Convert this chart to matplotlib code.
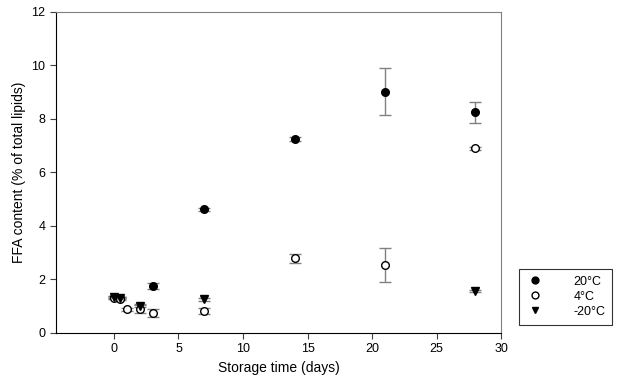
import numpy as np
import matplotlib.pyplot as plt

plt.rcParams['font.family'] = ['Liberation Sans', 'DejaVu Sans']

# 20°C
days_20 = [0, 0.5, 3, 7, 14, 21, 28]
ffa_20 = [1.33, 1.30, 1.76, 4.62, 7.26, 9.02, 8.25]
err_20 = [0.05, 0.05, 0.12, 0.06, 0.07, 0.87, 0.40]

# 4°C
days_4 = [0, 0.5, 1, 2, 3, 7, 14, 21, 28]
ffa_4 = [1.30, 1.28, 0.88, 0.90, 0.74, 0.82, 2.79, 2.55, 6.90]
err_4 = [0.04, 0.05, 0.06, 0.15, 0.14, 0.12, 0.17, 0.63, 0.05]

# -20°C
days_m20 = [0, 0.5, 2, 7, 28]
ffa_m20 = [1.34, 1.32, 1.02, 1.26, 1.56]
err_m20 = [0.03, 0.03, 0.05, 0.05, 0.04]

fig = plt.figure(figsize=(6.21, 3.84), dpi=100)
ax = fig.add_axes([0.090, 0.133, 0.717, 0.836])

ebkw = dict(ls='none', ecolor='#808080', elinewidth=1, capsize=4, capthick=1, ms=5.5)
ax.errorbar(days_20, ffa_20, yerr=err_20, fmt='o', color='black', mec='black', label='20°C', **ebkw)
ax.errorbar(days_4, ffa_4, yerr=err_4, fmt='o', mfc='white', mec='black', label='4°C', **ebkw)
ax.errorbar(days_m20, ffa_m20, yerr=err_m20, fmt='v', color='black', mec='black', label='-20°C', **ebkw)

ax.set_xlim(-4.5, 30)
ax.set_ylim(0, 12)
ax.set_xticks(np.arange(0, 31, 5))
ax.set_yticks(np.arange(0, 13, 2))
ax.tick_params(direction='out', length=4, labelsize=9, color='#404040')
for s in ['top', 'right']:
    ax.spines[s].set_color('#808080')
ax.set_xlabel('Storage time (days)', fontsize=10)
ax.set_ylabel('FFA content (% of total lipids)', fontsize=10)

handles, labels = ax.get_legend_handles_labels()
handles = [h[0] for h in handles]
leg = fig.legend(handles, labels, loc='upper left', bbox_to_anchor=(0.830, 0.31),
                 fontsize=9, frameon=True, fancybox=False, edgecolor='black',
                 handletextpad=2.4, borderpad=0.55, borderaxespad=0.3,
                 labelspacing=0.25, handlelength=1.4, markerscale=0.9)
leg.get_frame().set_linewidth(0.8)

fig.savefig('out.png', dpi=100)
